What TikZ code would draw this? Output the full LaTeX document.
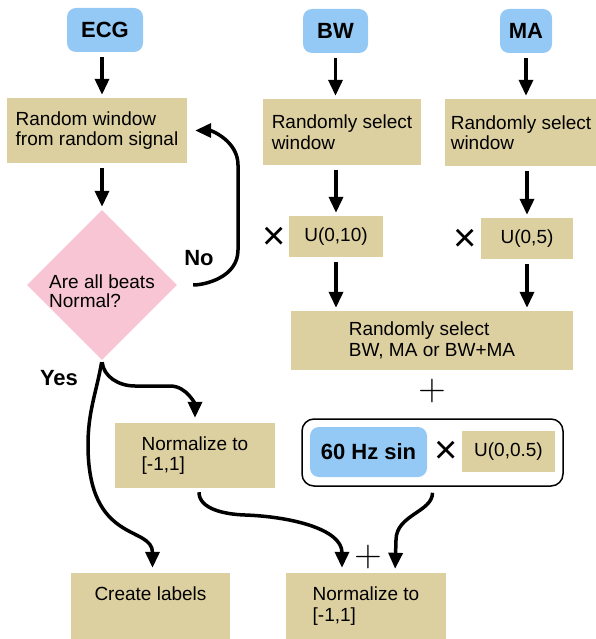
\documentclass[tikz,border=0pt]{standalone}
\usepackage{fontspec}
\setmainfont{Liberation Sans}
\usepackage{graphicx}
\usepackage{tikz}
\usetikzlibrary{arrows.meta,shapes,positioning}
\definecolor{sand}{RGB}{221,208,160}
\definecolor{sky}{RGB}{148,200,245}
\definecolor{rose}{RGB}{247,197,212}

\begin{document}
\begin{tikzpicture}[x=1pt,y=-1pt,>={Triangle[width=14pt,length=16pt]},
  every node/.style={font=\fontsize{19}{20.5}\selectfont}]
  \tikzstyle{source}=[rectangle,rounded corners=9pt,fill=sky,minimum height=44pt,
              font=\fontsize{22}{22}\selectfont\bfseries]
  \tikzstyle{box}=[rectangle,fill=sand,align=left,inner sep=0pt]
  \tikzstyle{flow}=[->,line width=3.5pt,shorten <=5pt,shorten >=3pt]
  \tikzstyle{times}=[inner sep=0pt,font=\fontsize{40}{40}\selectfont]
  \tikzstyle{plus}=[inner sep=0pt]
  \tikzstyle{answer}=[font=\fontsize{22}{22}\selectfont\bfseries]
  \useasboundingbox (0,0) rectangle (596,639);
    \node [source,minimum width=76pt] (ecg) at (105,30) {ECG};
    \node [source,minimum width=65pt] (bw) at (335.5,31) {BW};
    \node [source,minimum width=52pt] (ma) at (526,31) {MA};
    \node [box,minimum width=180pt,minimum height=65pt] (win) at (97,130.5) {Random window\\from random signal};
    \node [box,minimum width=158pt,minimum height=66pt] (bwwin) at (342,132) {Randomly select\\window};
    \node [box,minimum width=152pt,minimum height=67pt] (mawin) at (521,132.5) {Randomly select\\window};
    \node [box,diamond,fill=rose,minimum width=150pt,minimum height=150pt,
      label={[align=left,yshift=-6pt,font=\fontsize{19}{18.5}\selectfont]center:Are all beats\\Normal?}] (normal) at (102,285) {};
    \node [box,minimum width=94pt,minimum height=41pt] (bwu) at (336,236.5) {U(0,10)};
    \node [box,minimum width=92pt,minimum height=41pt] (mau) at (527,238.5) {U(0,5)};
    \node [times] (bwx) at (274,238) {×};
    \node [times] (max) at (465,240) {×};
    \node [box,minimum width=282pt,minimum height=59pt] (mix) at (432,340.5) {Randomly select\\BW, MA or BW+MA};
    \node [plus] (plus1) at (432,391) {\scalebox{2.2}{$+$}};
    \node [draw,rounded corners=12pt,line width=1.5pt,minimum width=261pt,minimum height=67pt] (noise) at (432.5,452.5) {};
    \node [source,minimum width=117pt,minimum height=50pt] (sin) at (368.5,452) {60 Hz sin};
    \node [times] (sinx) at (446,452) {×};
    \node [box,minimum width=93pt,minimum height=41pt] (sinu) at (508.5,451.5) {U(0,0.5)};
    \node [box,minimum width=160pt,minimum height=65pt] (norm) at (195,455.5) {Normalize to\\{}[-1,1]};
    \node [box,minimum width=159pt,minimum height=66pt,text depth=24pt] (labels) at (150.5,606) {Create labels};
    \node [box,minimum width=160pt,minimum height=66pt] (normb) at (366,606) {Normalize to\\{}[-1,1]};
    \node [plus] (plus2) at (368,557) {\scalebox{2.2}{$+$}};
    \node [answer] (no) at (199,258) {No};
    \node [answer] (yes) at (59,378) {Yes};

    \draw [flow] (ecg.south -| normal.north) -- (win.north -| normal.north);
    \draw [flow] (win.south -| normal.north) -- (normal.north);
    \draw [flow] (bw.south) -- (bw.south |- bwwin.north);
    \draw [flow] (ma.south) -- (ma.south |- mawin.north);
    \draw [flow] (bwwin.south -| bwu.north) -- (bwu.north);
    \draw [flow] (mawin.south -| mau.north) -- (mau.north);
    \draw [flow] (bwu.south) -- (bwu.south |- mix.north);
    \draw [flow] (mau.south) -- (mau.south |- mix.north);
    \draw [flow,shorten <=16pt,shorten >=8pt] (normal.east) to[out=0,in=270] (238,250)
      -- (238,165) to[out=90,in=0] (win.east);
    \draw [flow,shorten <=2pt,shorten >=5pt] (normal.south) to[out=-85,in=180] (135,386)
      -- (170,386) to[out=0,in=90] (norm.north);
    \draw [flow,shorten <=2pt,shorten >=5pt] (normal.south) to[out=-100,in=90] (88,445)
      .. controls (88,545) and ([xshift=2pt]labels.north |- 0,525) .. ([xshift=2pt]labels.north);
    \draw [flow,shorten <=4pt,shorten >=5pt] ([xshift=4pt]norm.south) to[out=-90,in=178] (245,515)
      to[out=-2,in=90] ([xshift=-24pt]normb.north);
    \draw [flow,shorten <=6pt,shorten >=4pt] (noise.south) to[out=-90,in=90] (396,540)
      -- ([xshift=29pt]normb.north);
\end{tikzpicture}
\end{document}
